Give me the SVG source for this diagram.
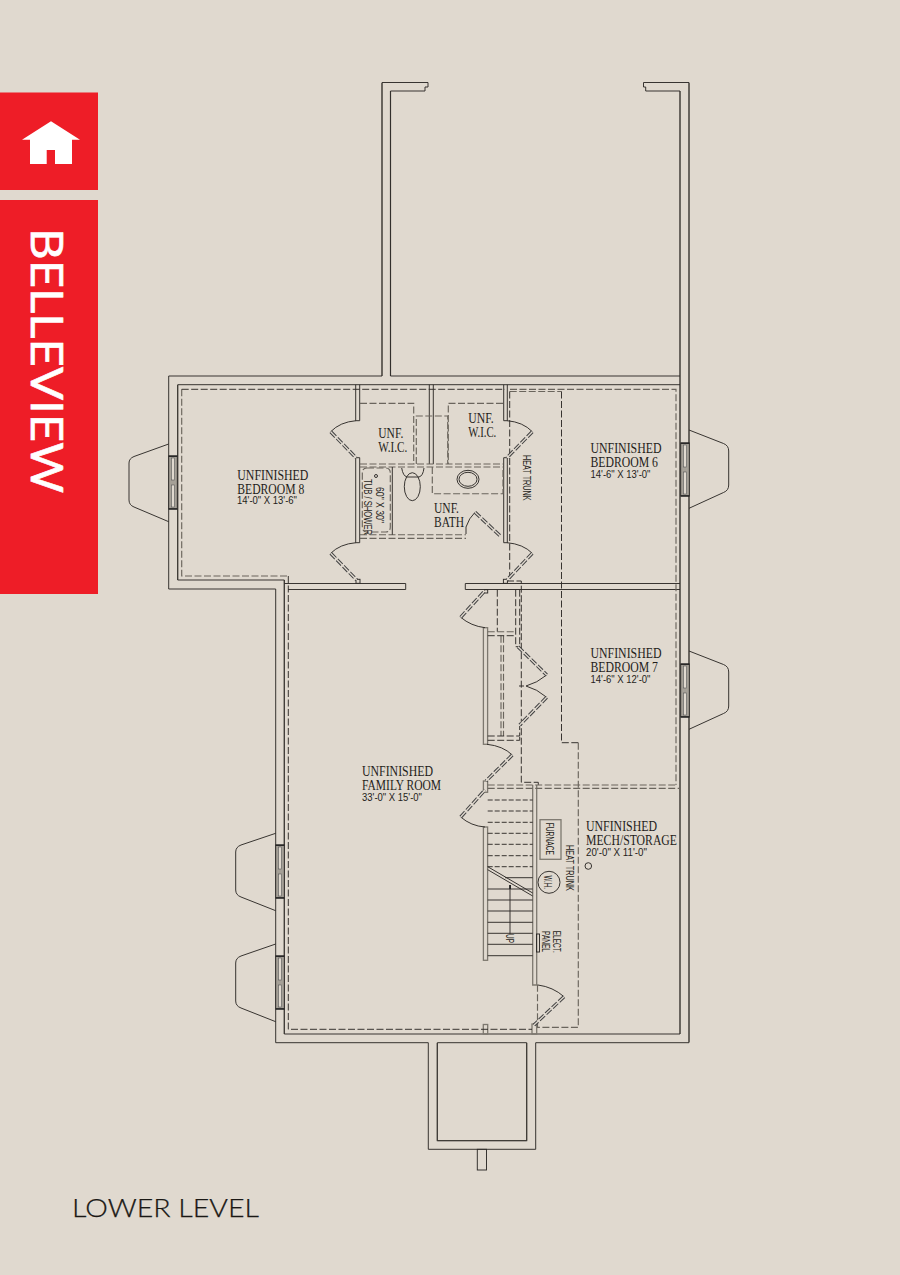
<svg xmlns="http://www.w3.org/2000/svg" width="900" height="1275" viewBox="0 0 900 1275">
<style>
.w{fill:none;stroke:#2e2b28;stroke-width:.95}
.g{fill:none;stroke:#7d786f;stroke-width:1.3}
.t{fill:none;stroke:#2e2b28;stroke-width:.95}
.d{fill:none;stroke:#2e2b28;stroke-width:.95;stroke-dasharray:7 2.5}
.e{fill:none;stroke:#6a655d;stroke-width:1.15;stroke-dasharray:7 2.5}
.lf{fill:none;stroke:#444;stroke-width:3.4;stroke-dasharray:7 2}
.lo{fill:none;stroke:#e0d9cf;stroke-width:1.3}
.win{fill:#a5a097;stroke:#2e2b28;stroke-width:.9}
.wg{fill:#e0d9cf;stroke:#555;stroke-width:.6}
.s{font-family:"Liberation Serif",serif;font-size:14.5px;fill:#1f1d1a}
.n{font-family:"Liberation Sans",sans-serif;font-size:10.5px;fill:#1f1d1a}
</style>
<defs>
<g id="winH">
<rect class="win" x="0" y="0" width="8.6" height="53"/>
<rect class="wg" x="2.8" y="2" width="3" height="22"/>
<rect class="wg" x="2.8" y="29" width="3" height="22"/>
<rect x="0" y="-.5" width="8.6" height="1.4" fill="#222"/>
<rect x="0" y="52.2" width="8.6" height="1.4" fill="#222"/>
</g>
</defs>
<rect id="background" width="900" height="1275" fill="#e0d9cf"/>

<g id="sidebar">
<rect x="0" y="92.5" width="98" height="97.5" fill="#ee1d27"/>
<rect x="0" y="200" width="98" height="394" fill="#ee1d27"/>
<path fill="#fff" d="M51 121.3L80 139.7H72V164H55V150H46.7V164H30V139.7H22Z"/>
<text transform="translate(31 228) rotate(90)" font-family="Lato,'Open Sans',sans-serif" font-size="43.5px" fill="#fff" stroke="#fff" stroke-width=".6" textLength="265" lengthAdjust="spacingAndGlyphs">BELLEVIEW</text>
</g>

<g id="walls">
<path class="g" d="M382 83V376M390.5 91V376M680 91V1034M689 83V1042M284.3 580V1034M177.7 385V580M437.3 1043V1140.7H526.7V1043"/>
<path class="w" d="M382 376V82.5H428V87H425V91H390.5V376"/>
<path class="w" d="M382 376H168.7V589H275.7V1042.7H428.3V1149.3H535.7V1042.7H689V82.5H643.5V87H645.7V91H680V1034H284.3V580H177.7V384.7H680"/>
<path class="w" d="M390.5 376H680"/>
<path class="w" d="M437.3 1042.7H526.7V1140.7H437.3Z"/>
<rect class="w" x="477.3" y="1149.3" width="9.2" height="20.7"/>
<path class="w" d="M284.3 583.5H405.7V589.5H288M680 583.5H465.3V589.5H680"/>
<path class="w" d="M355.7 384.7V420.7H359.7V384.7M355.7 457.7H359.7V542.7H355.7Z"/>
<path class="w" d="M503.7 384.7V420.7H507.3V384.7M503.7 457.7H507.3V542.7H503.7Z"/>
<rect class="w" x="356" y="579.3" width="4" height="4"/>
<rect class="w" x="503.4" y="579.3" width="4" height="4"/>
<path class="w" d="M429.3 384.7V464M433.3 384.7V464"/>
<rect class="g" x="483.4" y="627.7" width="4.2" height="116.6"/>
<rect class="g" x="483.4" y="781" width="4.2" height="11.3"/>
<rect class="g" x="483.4" y="827" width="4.2" height="133.3"/>
<path class="g" d="M532.7 785V985H538M536.7 785V985"/>
<rect class="g" x="483.3" y="1024.5" width="4.4" height="9.5"/>
<rect class="g" x="532" y="1024" width="4.7" height="10"/>
<rect class="t" x="484.5" y="589.7" width="3.2" height="3.3"/>
</g>

<g id="dashed-lines">
<path class="e" d="M181.7 389.3V576H288.3"/>
<path class="d" d="M181.7 389.3H505M288.3 576V1029.3H532"/>
<path class="e" d="M509.7 391.5H561.5M510 389.3H676V785M360 403.3H413.7V464M503 403.3H448.3V464M416.3 464V416H447.7V464"/>
<path class="d" d="M509.7 391.5V580M561.5 391.5V742.7H578.3"/>
<path class="e" d="M578.3 742.7V1027.3H537.5V985M360 464H503M360 467H503M432.3 467V493.7H503V467"/>
<path class="e" d="M360 534.7H466M360 538.3H466M487.7 785H676M487.7 788.3H680"/>
<path class="d" d="M507 581H521.3V782.3H538.3V785M497.3 589.7V631.7M515.7 589.7V646.7H519M519.7 589.7V646"/>
<path class="e" d="M487.7 631.7H515.7M501 635.7V736M503.5 635.7V736"/>
<path class="d" d="M487.7 635.7H515.7M487.7 736H519.7V726M487.7 740.3H519.7V736"/>
</g>

<g id="doors">
<path class="t" d="M356 420.7Q340 422 330.7 431.7M507 420.7Q523 422 532.3 431.7M356 542.7Q340 544 330.7 553.3M507 542.7Q523 544 532.3 553.3M466 534V527Q469 518 475 512.3M485 627.7Q471 626 460.7 617.3M487 744.3Q503 746 512.3 755M485 827Q471 826 460.7 817M526 686Q537 683 546.7 675M526 686Q537 689 546.7 697.3M519 686H524M538 985Q553 987 564 996.7"/>
<path class="lf" d="M330.7 431.7L356 457.7M532.3 431.7L507 457.7M330.7 553.3L356.7 580M532.3 553.3L507 580M475 512.3L500 535.7M460.7 617.3L485 590.7M512.3 755L486 781M460.7 817L485 790M518 646.7L546.7 675M546.7 697.3L519.7 725M564 996.7L534 1025"/>
<path class="lo" d="M330.7 431.7L356 457.7M532.3 431.7L507 457.7M330.7 553.3L356.7 580M532.3 553.3L507 580M475 512.3L500 535.7M460.7 617.3L485 590.7M512.3 755L486 781M460.7 817L485 790M518 646.7L546.7 675M546.7 697.3L519.7 725M564 996.7L534 1025"/>
</g>

<g id="bath-fixtures">
<path class="e" d="M367 468H385.5Q390.3 468 390.3 473V527Q390.3 532 385.5 532H367Q362.3 532 362.3 527V473Q362.3 468 367 468Z"/>
<path class="t" d="M392.3 467V534.7"/>
<circle class="t" cx="376" cy="476" r="1.5"/>
<ellipse class="t" cx="468" cy="479.3" rx="11" ry="9"/>
<ellipse class="t" cx="468" cy="479.3" rx="9" ry="7"/>
<path class="t" d="M401.7 468Q403 476 407 477H419Q423 476 424 468"/>
<ellipse class="t" cx="412.3" cy="486.7" rx="8" ry="14"/>
</g>

<g id="stairs">
<path class="t" stroke-dasharray="5 2" d="M487.7 800H532.7M487.7 811H532.7M487.7 822.3H532.7M487.7 833.3H532.7M487.7 844.3H532.7M487.7 855.7H532.7M487.7 866.7H532.7"/>
<path class="t" d="M505 877.7H532.7M487.7 889H532.7M487.7 900H532.7M487.7 911H532.7M487.7 922.3H532.7M487.7 933.3H532.7M487.7 944.3H532.7M487.7 955.7H532.7"/>
<path class="t" d="M487.7 866.7L532.7 893M487.7 869.7L532.7 896"/>
<path class="w" d="M510 885V934"/>
<rect x="509.2" y="885" width="1.8" height="4" fill="#222"/>
</g>

<g id="mech-fixtures">
<rect class="g" x="540" y="819.7" width="21" height="39.6"/>
<circle class="t" cx="549" cy="882.3" r="11"/>
<rect class="w" x="536.5" y="934" width="3" height="18"/>
<circle class="t" cx="588.3" cy="866" r="3.3"/>
</g>

<g id="windows">
<path class="t" d="M168.7 444L134 456.5Q129 458.5 129 463V500Q129 505 134 507L168.7 521.7"/>
<use href="#winH" x="168.7" y="456"/>
<path class="t" d="M689 430L723.5 443.5Q728.7 445.5 728.7 451V485Q728.7 490.5 723.5 492.5L689 508.3"/>
<use href="#winH" x="680.7" y="443"/>
<path class="t" d="M689 651L723.5 664.5Q728.7 666.5 728.7 672V706Q728.7 711.5 723.5 713.5L689 729.3"/>
<use href="#winH" x="680.7" y="664"/>
<path class="t" d="M275.7 833.3L241 845Q235.7 847 235.7 852V890Q235.7 895 241 897L275.7 910.7"/>
<use href="#winH" x="275.7" y="845"/>
<path class="t" d="M275.7 944L241 956Q235.7 958 235.7 963V1001Q235.7 1006 241 1008L275.7 1021.7"/>
<use href="#winH" x="275.7" y="956"/>
</g>

<g id="labels">
<text class="s" x="237.3" y="479.5" textLength="71" lengthAdjust="spacingAndGlyphs">UNFINISHED</text>
<text class="s" x="237.3" y="493.7" textLength="67" lengthAdjust="spacingAndGlyphs">BEDROOM 8</text>
<text class="n" x="237" y="504.3" textLength="60" lengthAdjust="spacingAndGlyphs">14'-0" X 13'-6"</text>
<text class="s" x="590.5" y="453" textLength="71" lengthAdjust="spacingAndGlyphs">UNFINISHED</text>
<text class="s" x="590.5" y="467" textLength="67.5" lengthAdjust="spacingAndGlyphs">BEDROOM 6</text>
<text class="n" x="590.5" y="478" textLength="60" lengthAdjust="spacingAndGlyphs">14'-6" X 13'-0"</text>
<text class="s" x="590.5" y="658" textLength="71" lengthAdjust="spacingAndGlyphs">UNFINISHED</text>
<text class="s" x="590.5" y="672" textLength="67.5" lengthAdjust="spacingAndGlyphs">BEDROOM 7</text>
<text class="n" x="590.5" y="683" textLength="60" lengthAdjust="spacingAndGlyphs">14'-6" X 12'-0"</text>
<text class="s" x="362" y="776" textLength="71" lengthAdjust="spacingAndGlyphs">UNFINISHED</text>
<text class="s" x="362" y="790" textLength="79" lengthAdjust="spacingAndGlyphs">FAMILY ROOM</text>
<text class="n" x="362" y="801" textLength="60" lengthAdjust="spacingAndGlyphs">33'-0" X 15'-0"</text>
<text class="s" x="586" y="831" textLength="71" lengthAdjust="spacingAndGlyphs">UNFINISHED</text>
<text class="s" x="586" y="845" textLength="91" lengthAdjust="spacingAndGlyphs">MECH/STORAGE</text>
<text class="n" x="586" y="856" textLength="61" lengthAdjust="spacingAndGlyphs">20'-0" X 11'-0"</text>
<text class="s" x="378.3" y="437.7" textLength="25" lengthAdjust="spacingAndGlyphs">UNF.</text>
<text class="s" x="378.3" y="451.7" textLength="29" lengthAdjust="spacingAndGlyphs">W.I.C.</text>
<text class="s" x="468.3" y="422.7" textLength="25.5" lengthAdjust="spacingAndGlyphs">UNF.</text>
<text class="s" x="468.3" y="436.7" textLength="28" lengthAdjust="spacingAndGlyphs">W.I.C.</text>
<text class="s" x="434" y="512.7" textLength="25" lengthAdjust="spacingAndGlyphs">UNF.</text>
<text class="s" x="434" y="526.7" textLength="30" lengthAdjust="spacingAndGlyphs">BATH</text>
<text class="n" transform="translate(376 487) rotate(90)" textLength="36" lengthAdjust="spacingAndGlyphs">60" X 30"</text>
<text class="n" transform="translate(364 479) rotate(90)" textLength="56" lengthAdjust="spacingAndGlyphs">TUB / SHOWER</text>
<text class="n" transform="translate(523.3 455) rotate(90)" textLength="45.7" lengthAdjust="spacingAndGlyphs">HEAT TRUNK</text>
<text class="n" transform="translate(565.7 845) rotate(90)" textLength="46" lengthAdjust="spacingAndGlyphs">HEAT TRUNK</text>
<text class="n" transform="translate(545.7 822.7) rotate(90)" textLength="32.3" lengthAdjust="spacingAndGlyphs">FURNACE</text>
<text class="n" transform="translate(544.3 875.5) rotate(90)" textLength="13.5" lengthAdjust="spacingAndGlyphs">W.H.</text>
<text class="n" transform="translate(505.7 934) rotate(90)" textLength="9" lengthAdjust="spacingAndGlyphs">UP</text>
<text class="n" transform="translate(552.7 930.7) rotate(90)" textLength="22" lengthAdjust="spacingAndGlyphs">ELECT.</text>
<text class="n" transform="translate(541.7 931) rotate(90)" textLength="21" lengthAdjust="spacingAndGlyphs">PANEL</text>
<text x="72" y="1217" font-family="Lato,'Open Sans',sans-serif" font-weight="300" font-size="25px" fill="#1a1815" stroke="#1a1815" stroke-width=".25" textLength="187" lengthAdjust="spacingAndGlyphs">LOWER LEVEL</text>
</g>
</svg>
